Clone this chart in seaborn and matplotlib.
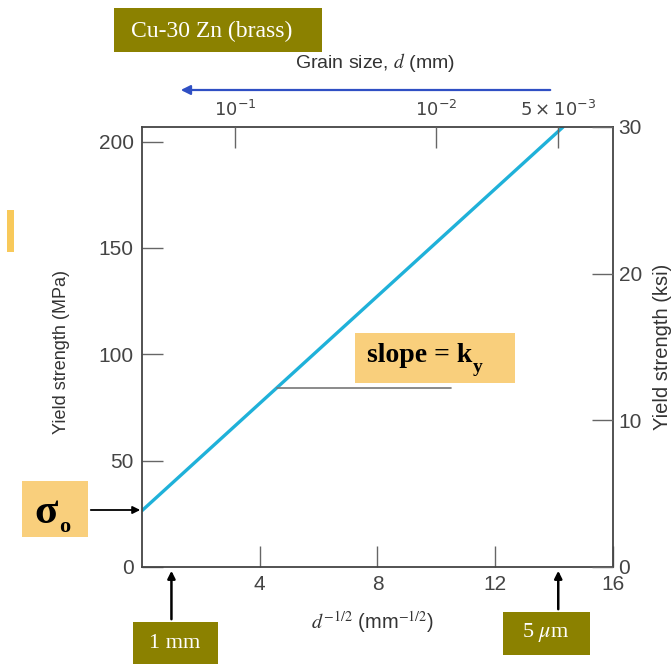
import numpy as np
import pandas as pd
import matplotlib
matplotlib.use('Agg')
import matplotlib.pyplot as plt
from matplotlib.patches import Rectangle, FancyArrowPatch
import seaborn as sns

# ================= 数据 =================
d_inv_sqrt = [0.0, 14.3]             # d^-1/2 (mm^-1/2)
yield_mpa = [26.5, 206.8]            # MPa
x_ticks = [4, 8, 12, 16]
y_ticks_mpa = [0, 50, 100, 150, 200]
y_ticks_ksi = [0, 10, 20, 30]
grain_sizes_mm = [1e-1, 1e-2, 5e-3]
grain_labels = [r'$10^{-1}$', r'$10^{-2}$', r'$5\times10^{-3}$']
marker_sizes = [1.0, 14.14]          # 1 mm, 5 um in d^-1/2
# =========================================

sns.set_style('ticks')
plt.rcParams['font.family'] = ['Liberation Sans', 'DejaVu Sans']

OLIVE = '#8b8100'
PEACH = '#f9cf7c'
GRAY = '#444444'
KSI_TO_MPA = 6.894757

fig = plt.figure(figsize=(6.71, 6.64), dpi=100)
W, H = 671, 664


def fx(px):
    return px / W


def fy(py):
    return 1 - py / H


ax = fig.add_axes([fx(142), fy(567), fx(613) - fx(142), fy(127) - fy(567)])
df = pd.DataFrame({'x': d_inv_sqrt, 'y': yield_mpa})
sns.lineplot(data=df, x='x', y='y', ax=ax, color='#1fb1d9', linewidth=2.4)

ax.set_xlim(0, 16)
ax.set_ylim(0, 30 * KSI_TO_MPA)
ax.set_xticks(x_ticks)
ax.set_yticks(y_ticks_mpa)
ax.set_xlabel('')
ax.set_ylabel('')
ax.tick_params(direction='in', length=15, width=1, color='#666666',
               labelsize=15, labelcolor='#444444', pad=6)
for s in ax.spines.values():
    s.set_color(GRAY)
    s.set_linewidth(1.3)

# right axis (ksi)
ax_r = ax.twinx()
ax_r.set_ylim(0, 30)
ax_r.set_yticks(y_ticks_ksi)
ax_r.tick_params(direction='in', length=15, width=1, color='#666666',
                 labelsize=15, labelcolor='#444444', pad=4)
for s in ax_r.spines.values():
    s.set_visible(False)

# top axis (grain size)
ax_t = ax.twiny()
ax_t.set_xlim(0, 16)
ax_t.set_xticks([g ** -0.5 for g in grain_sizes_mm])
ax_t.set_xticklabels(grain_labels)
ax_t.tick_params(direction='in', length=15, width=1, color='#666666',
                 labelsize=13, labelcolor='#444444', pad=5)
for s in ax_t.spines.values():
    s.set_visible(False)

# axis labels
fig.text(fx(61), fy(352), 'Yield strength (MPa)', rotation=90, ha='center', va='center',
         fontsize=13, color='#333333')
fig.text(fx(653), fy(347), 'Yield strength (ksi)', rotation=90, ha='left', va='center',
         fontsize=14.5, color='#333333')
fig.text(fx(373), fy(622), r'$d^{-1/2}$ (mm$^{-1/2}$)', ha='center', va='center',
         fontsize=14.5, color='#333333', math_fontfamily='stix')
# grain size label + arrow
fig.text(fx(375), fy(62), r'Grain size, $d$ (mm)', ha='center', va='center',
         fontsize=14, color='#333333', math_fontfamily='stix')
fig.patches.append(FancyArrowPatch((fx(553), fy(90)), (fx(178), fy(90)),
                                   transform=fig.transFigure, arrowstyle='-|>',
                                   mutation_scale=14, color='#2f4fc4', lw=1.6))

# slope leg
ax.plot([4.6, 10.5], [84, 84], color='#777777', lw=1.2)


def box(x0, y0, x1, y1, color):
    fig.patches.append(Rectangle((fx(x0), fy(y1)), fx(x1) - fx(x0), fy(y0) - fy(y1),
                                 transform=fig.transFigure, facecolor=color,
                                 edgecolor='none', zorder=0))


serif = ['Liberation Serif', 'DejaVu Serif']

# title box
box(114, 8, 322, 52, OLIVE)
fig.text(fx(212), fy(31), 'Cu-30 Zn (brass)', ha='center', va='center',
         fontsize=17, color='white', family=serif)

# orange mark
box(7, 210, 14, 252, '#f8c95a')

# sigma_o
box(22, 481, 88, 537, PEACH)
fig.text(fx(58), fy(513), 'σ', ha='right', va='center', fontsize=31,
         fontweight='bold', color='black', family=serif)
fig.text(fx(59), fy(527), 'o', ha='left', va='center', fontsize=16,
         fontweight='bold', color='black', family=serif)
fig.patches.append(FancyArrowPatch((fx(88), fy(510)), (fx(143), fy(510)),
                                   transform=fig.transFigure, arrowstyle='-|>',
                                   mutation_scale=11, color='black', lw=1.3))

# slope = k_y
box(355, 333, 515, 383, PEACH)
t_slope = fig.text(fx(367), fy(356), 'slope = k', ha='left', va='center', fontsize=20,
                   fontweight='bold', color='black', family=serif)
fig.canvas.draw()
bb = t_slope.get_window_extent()
fig.text(bb.x1 / (fig.dpi * fig.get_figwidth()) + 0.001, fy(368), 'y', ha='left', va='center',
         fontsize=14, fontweight='bold', color='black', family=serif)

# 1 mm / 5 um boxes + arrows
box(133, 622, 218, 664, OLIVE)
fig.text(fx(175), fy(644), '1 mm', ha='center', va='center', fontsize=16,
         color='white', family=serif)
box(503, 612, 590, 655, OLIVE)
fig.text(fx(546), fy(633), r'5 $\mu$m', ha='center', va='center', fontsize=16,
         color='white', family=serif, math_fontfamily='stix')

for xv, ystart in zip(marker_sizes, [622, 612]):
    xp = ax.transData.transform((xv, 0))[0] / fig.dpi / fig.get_figwidth()
    fig.patches.append(FancyArrowPatch((xp, fy(ystart)), (xp, fy(568)),
                                       transform=fig.transFigure, arrowstyle='-|>',
                                       mutation_scale=11, color='black', lw=1.8))

fig.savefig('out.png', dpi=100)
